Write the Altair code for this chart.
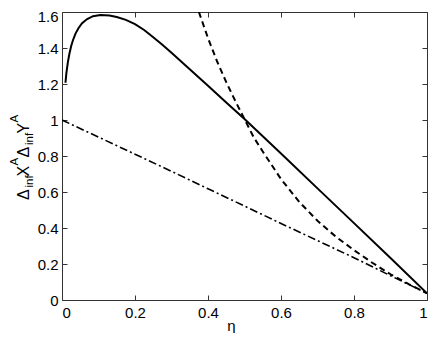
import altair as alt
import pandas as pd

# Data
eta_solid = [0.0095, 0.012, 0.016, 0.02, 0.025, 0.03, 0.037, 0.045, 0.055, 0.069, 0.085, 0.105, 0.13, 0.15, 0.175, 0.2, 0.225, 0.25, 0.275, 0.3, 0.35, 0.4, 0.45, 0.5, 0.6, 0.7, 0.8, 0.9, 1.0]
val_solid = [1.207, 1.26, 1.32, 1.365, 1.41, 1.443, 1.48, 1.51, 1.538, 1.561, 1.577, 1.583, 1.580, 1.572, 1.556, 1.533, 1.500, 1.46, 1.418, 1.373, 1.282, 1.19, 1.097, 1.005, 0.814, 0.620, 0.427, 0.233, 0.037]

eta_dashed = [0.375, 0.4, 0.425, 0.45, 0.475, 0.5, 0.525, 0.55, 0.6, 0.65, 0.7, 0.75, 0.8, 0.85, 0.9, 0.95, 1.0]
val_dashed = [1.60, 1.455, 1.325, 1.21, 1.105, 1.005, 0.905, 0.825, 0.672, 0.545, 0.44, 0.352, 0.277, 0.207, 0.143, 0.088, 0.037]

eta_dashdot = [0.0, 0.1, 0.2, 0.3, 0.4, 0.5, 0.6, 0.7, 0.8, 0.9, 1.0]
val_dashdot = [1.0, 0.905, 0.81, 0.715, 0.618, 0.522, 0.425, 0.33, 0.235, 0.135, 0.037]

x_ticks = [0, 0.2, 0.4, 0.6, 0.8, 1.0]
y_ticks = [0, 0.2, 0.4, 0.6, 0.8, 1.0, 1.2, 1.4, 1.6]

W, H = 365, 288
FONT = "Liberation Sans"
AX = "#333333"

df_solid = pd.DataFrame({"eta": eta_solid, "val": val_solid})
df_dashed = pd.DataFrame({"eta": eta_dashed, "val": val_dashed})
df_dashdot = pd.DataFrame({"eta": eta_dashdot, "val": val_dashdot})

xs = alt.Scale(domain=[0, 1], nice=False, zero=False)
ys = alt.Scale(domain=[0, 1.6], nice=False, zero=False)

common = dict(grid=False, labelFont=FONT, titleFont=FONT, domainColor=AX, tickColor=AX, tickSize=5)

# bottom axis: labels + domain
ax_bottom = alt.Axis(orient="bottom", values=x_ticks, format="~g", ticks=False, domain=True,
                     labelFontSize=15, labelColor="black", labelPadding=5,
                     title="η", titleFontSize=15, titleFontWeight="normal", titleColor="black",
                     titleX=169, titleY=30, titleAlign="center", titleBaseline="alphabetic",
                     **common)
ay_left = alt.Axis(orient="left", values=y_ticks, format="~g", ticks=False, domain=True,
                   labelFontSize=15, labelColor="black", labelPadding=4, title=None,
                   labelOffset={"condition": {"test": "datum.value >= 1.59", "value": 4}, "value": 0},
                   **common)
# inward ticks at bottom / left (opposite-orient axes moved across the plot)
ax_btick = alt.Axis(orient="top", offset=-H, values=x_ticks, labels=False, domain=False, ticks=True, title=None, **common)
ay_ltick = alt.Axis(orient="right", offset=-W, values=y_ticks, labels=False, domain=False, ticks=True, title=None, **common)
# top / right borders with inward ticks
ax_top = alt.Axis(orient="bottom", offset=-H, values=x_ticks, labels=False, domain=True, ticks=True, title=None, **common)
ay_right = alt.Axis(orient="left", offset=-W, values=y_ticks, labels=False, domain=True, ticks=True, title=None, **common)

solid = alt.Chart(df_solid).mark_line(color="black", strokeWidth=2, clip=True).encode(
    x=alt.X("eta:Q", scale=xs, axis=ax_bottom),
    y=alt.Y("val:Q", scale=ys, axis=ay_left),
)
dashed = alt.Chart(df_dashed).mark_line(color="black", strokeWidth=2, strokeDash=[6, 4], clip=True).encode(
    x=alt.X("eta:Q", scale=xs, axis=ax_btick),
    y=alt.Y("val:Q", scale=ys, axis=ay_ltick),
)
dashdot = alt.Chart(df_dashdot).mark_line(color="black", strokeWidth=1.6, strokeDash=[8, 3, 2, 3], clip=True).encode(
    x=alt.X("eta:Q", scale=xs, axis=ax_top),
    y=alt.Y("val:Q", scale=ys, axis=ay_right),
)

# y-axis title with sub/superscripts: (text, start y, baseline x, size)
title_parts = [
    ("Δ", 188, -33, 16),
    ("inf", 175.5, -29.5, 11.5),
    ("X", 164.5, -33, 16),
    ("A", 153.5, -44, 11.5),
    ("Δ", 145.5, -33, 16),
    ("inf", 133, -29.5, 11.5),
    ("Y", 121.5, -33, 16),
    ("A", 110.5, -44, 11.5),
]
dummy = pd.DataFrame({"a": [0]})
title_layers = []
for txt, yy, xx, fs in title_parts:
    title_layers.append(
        alt.Chart(dummy).mark_text(text=txt, angle=270, align="left", baseline="alphabetic",
                                   font=FONT, fontSize=fs, color="black").encode(
            x=alt.value(xx), y=alt.value(yy))
    )

chart = alt.layer(solid, dashed, dashdot, *title_layers).resolve_axis(
    x="independent", y="independent"
).properties(
    width=W, height=H,
    autosize=alt.AutoSizeParams(type="none"),
    padding={"left": 54, "top": 4, "right": 1, "bottom": 33},
).configure_view(stroke=None).configure(background="white")

chart.save("out.html", embed_options={"renderer": "svg", "actions": False})
